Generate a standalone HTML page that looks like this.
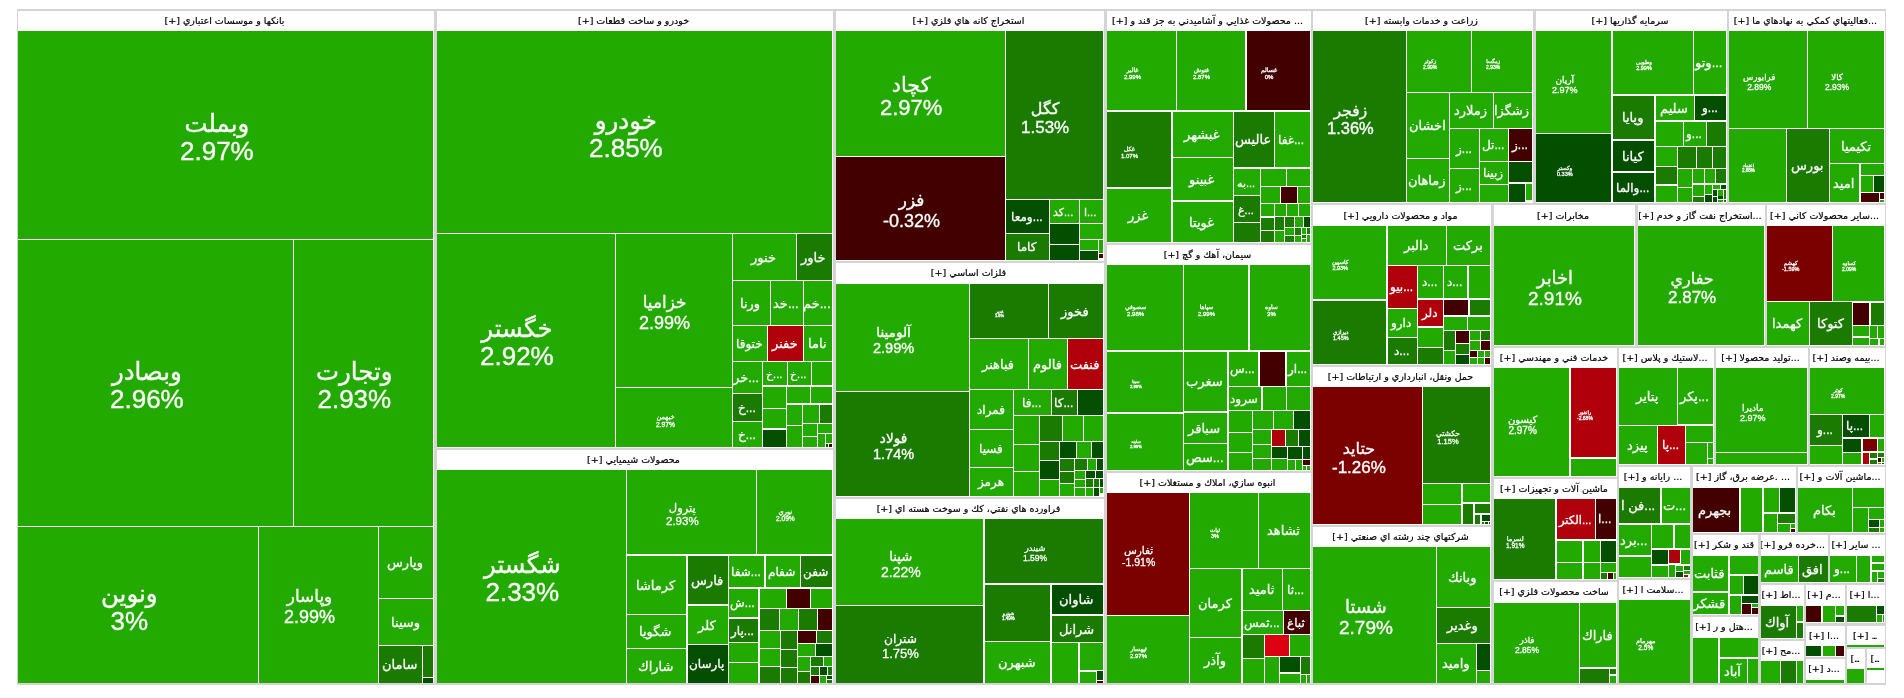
<!DOCTYPE html>
<html lang="fa"><head><meta charset="utf-8"><title>نقشه بازار</title>
<style>
html,body{margin:0;padding:0;background:#fff;width:1904px;height:698px;overflow:hidden}
#map{position:absolute;left:17px;top:9px;width:1869px;height:676px;background:#d4d4d4}
.g{position:absolute;background:#fff;overflow:hidden}
.h{position:absolute;left:0;right:0;top:0;height:20px;padding-right:3px;line-height:20px;text-align:center;white-space:nowrap;overflow:hidden;
 font-family:"DejaVu Sans","Liberation Sans",sans-serif;font-size:9.5px;color:#000;direction:rtl;-webkit-text-stroke:0.2px #000;will-change:transform}
.l{position:absolute;overflow:hidden;color:#fff;display:flex;flex-direction:column;align-items:center;justify-content:center;
 font-family:"Liberation Sans","DejaVu Sans",sans-serif;white-space:nowrap;text-align:center}
.l span{display:block}
.n{direction:rtl}
.d{letter-spacing:-0.16em}
.l .d{display:inline}
.t{will-change:transform}
</style></head><body><div id="map"></div>

<div class="g" style="left:18px;top:11px;width:416px;height:672px"><div class="h" style="">بانكها و موسسات اعتباري [+]</div></div>
<div class="g" style="left:437px;top:11px;width:396px;height:437px"><div class="h" style="">خودرو و ساخت قطعات [+]</div></div>
<div class="g" style="left:437px;top:450px;width:396px;height:233px"><div class="h" style="">محصولات شيميايي [+]</div></div>
<div class="g" style="left:836px;top:11px;width:268px;height:250px"><div class="h" style="">استخراج كانه هاي فلزي [+]</div></div>
<div class="g" style="left:836px;top:263px;width:268px;height:234px"><div class="h" style="">فلزات اساسي [+]</div></div>
<div class="g" style="left:836px;top:499px;width:268px;height:184px"><div class="h" style="">فراورده هاي نفتي، كك و سوخت هسته اي [+]</div></div>
<div class="g" style="left:1107px;top:11px;width:204px;height:232px"><div class="h" style=""><span class="d">...</span> محصولات غذايي و آشاميدني به جز قند و [+]</div></div>
<div class="g" style="left:1107px;top:245px;width:204px;height:226px"><div class="h" style="">سيمان، آهك و گچ [+]</div></div>
<div class="g" style="left:1107px;top:473px;width:204px;height:210px"><div class="h" style="">انبوه سازي، املاك و مستغلات [+]</div></div>
<div class="g" style="left:1313px;top:11px;width:220px;height:192px"><div class="h" style="">زراعت و خدمات وابسته [+]</div></div>
<div class="g" style="left:1313px;top:205px;width:178px;height:160px"><div class="h" style="height:21px;line-height:21px">مواد و محصولات دارويي [+]</div></div>
<div class="g" style="left:1313px;top:367px;width:178px;height:158px"><div class="h" style="">حمل ونقل، انبارداري و ارتباطات [+]</div></div>
<div class="g" style="left:1313px;top:527px;width:178px;height:156px"><div class="h" style="">شركتهاي چند رشته اي صنعتي [+]</div></div>
<div class="g" style="left:1536px;top:11px;width:191px;height:192px"><div class="h" style="">سرمايه گذاريها [+]</div></div>
<div class="g" style="left:1729px;top:11px;width:156px;height:192px"><div class="h" style=""><span class="d">...</span>فعاليتهاي كمكي به نهادهاي ما [+]</div></div>
<div class="g" style="left:1494px;top:205px;width:141px;height:141px"><div class="h" style="height:21px;line-height:21px">مخابرات [+]</div></div>
<div class="g" style="left:1638px;top:205px;width:127px;height:141px"><div class="h" style="height:21px;line-height:21px"><span class="d">...</span>استخراج نفت گاز و خدم [+]</div></div>
<div class="g" style="left:1767px;top:205px;width:118px;height:141px"><div class="h" style="height:21px;line-height:21px"><span class="d">...</span>ساير محصولات كاني [+]</div></div>
<div class="g" style="left:1494px;top:348px;width:123px;height:129px"><div class="h" style="">خدمات فني و مهندسي [+]</div></div>
<div class="g" style="left:1619px;top:348px;width:95px;height:117px"><div class="h" style=""><span class="d">...</span>لاستيك و پلاس [+]</div></div>
<div class="g" style="left:1716px;top:348px;width:92px;height:117px"><div class="h" style=""><span class="d">...</span>توليد محصولا [+]</div></div>
<div class="g" style="left:1810px;top:348px;width:75px;height:117px"><div class="h" style=""><span class="d">...</span>بيمه وصند [+]</div></div>
<div class="g" style="left:1494px;top:479px;width:123px;height:101px"><div class="h" style="">ماشين آلات و تجهيزات [+]</div></div>
<div class="g" style="left:1494px;top:582px;width:123px;height:101px"><div class="h" style="">ساخت محصولات فلزي [+]</div></div>
<div class="g" style="left:1619px;top:467px;width:71px;height:111px"><div class="h" style=""><span class="d">...</span> رايانه و [+]</div></div>
<div class="g" style="left:1619px;top:580px;width:71px;height:103px"><div class="h" style=""><span class="d">...</span>سلامت ا [+]</div></div>
<div class="g" style="left:1693px;top:467px;width:103px;height:66px"><div class="h" style=""><span class="d">...</span> .عرضه برق، گاز [+]</div></div>
<div class="g" style="left:1798px;top:467px;width:87px;height:66px"><div class="h" style=""><span class="d">...</span>ماشين آلات و [+]</div></div>
<div class="g" style="left:1693px;top:535px;width:65px;height:80px"><div class="h" style="">قند و شكر [+]</div></div>
<div class="g" style="left:1761px;top:535px;width:67px;height:48px"><div class="h" style=""><span class="d">...</span>خرده فرو [+]</div></div>
<div class="g" style="left:1830px;top:535px;width:55px;height:48px"><div class="h" style=""><span class="d">...</span> ساير [+]</div></div>
<div class="g" style="left:1693px;top:617px;width:65px;height:66px"><div class="h" style=""><span class="d">...</span>هتل و ر [+]</div></div>
<div class="g" style="left:1761px;top:585px;width:43px;height:54px"><div class="h" style=""><span class="d">...</span>اط [+]</div></div>
<div class="g" style="left:1761px;top:641px;width:43px;height:42px"><div class="h" style=""><span class="d">...</span>مح [+]</div></div>
<div class="g" style="left:1806px;top:585px;width:39px;height:38px"><div class="h" style=""><span class="d">...</span>م [+]</div></div>
<div class="g" style="left:1806px;top:626px;width:39px;height:31px"><div class="h" style=""><span class="d">...</span>ا [+]</div></div>
<div class="g" style="left:1806px;top:659px;width:39px;height:24px"><div class="h" style=""><span class="d">...</span>د [+]</div></div>
<div class="g" style="left:1847px;top:585px;width:38px;height:38px"><div class="h" style=""><span class="d">...</span>ا [+]</div></div>
<div class="g" style="left:1847px;top:626px;width:38px;height:21px"><div class="h" style=""><span class="d">...</span> [+]</div></div>
<div class="g" style="left:1847px;top:649px;width:18px;height:34px"><div class="h" style="direction:ltr">[<span class="d">...</span></div></div>
<div class="g" style="left:1867px;top:649px;width:18px;height:34px"><div class="h" style="direction:ltr">[<span class="d">...</span></div></div>
<div class="l" style="left:18px;top:31px;width:415px;height:208px;background:#22aa00;font-size:26px;line-height:1.12;-webkit-text-stroke:0.35px #fff"><div class="t" style="transform:translate(-9px,3px)"><span class="n" style="font-size:0.94em">وبملت</span><span>2.97%</span></div></div>
<div class="l" style="left:18px;top:240px;width:275px;height:286px;background:#22aa00;font-size:26px;line-height:1.12;-webkit-text-stroke:0.35px #fff"><div class="t" style="transform:translate(-9px,3px)"><span class="n" style="font-size:0.94em">وبصادر</span><span>2.96%</span></div></div>
<div class="l" style="left:294px;top:240px;width:139px;height:286px;background:#22aa00;font-size:26px;line-height:1.12;-webkit-text-stroke:0.35px #fff"><div class="t" style="transform:translate(-9px,3px)"><span class="n" style="font-size:0.94em">وتجارت</span><span>2.93%</span></div></div>
<div class="l" style="left:18px;top:527px;width:240px;height:156px;background:#22aa00;font-size:26px;line-height:1.12;-webkit-text-stroke:0.35px #fff"><div class="t" style="transform:translate(-9px,3px)"><span class="n" style="font-size:0.94em">ونوين</span><span>3%</span></div></div>
<div class="l" style="left:259px;top:527px;width:119px;height:156px;background:#22aa00;font-size:18px;line-height:1.12;-webkit-text-stroke:0.35px #fff"><div class="t" style="transform:translate(-9px,3px)"><span class="n" style="font-size:0.94em">وپاسار</span><span>2.99%</span></div></div>
<div class="l" style="left:379px;top:527px;width:54px;height:71px;background:#22aa00;font-size:13px;line-height:1.12;-webkit-text-stroke:0.3px #fff"><div class="t" style="transform:translate(-1px,1px)"><span class="n">وپارس</span></div></div>
<div class="l" style="left:379px;top:599px;width:54px;height:46px;background:#22aa00;font-size:13px;line-height:1.12;-webkit-text-stroke:0.3px #fff"><div class="t" style="transform:translate(-1px,1px)"><span class="n">وسينا</span></div></div>
<div class="l" style="left:379px;top:646px;width:43px;height:37px;background:#1a7b00;font-size:13px;line-height:1.12;-webkit-text-stroke:0.3px #fff"><div class="t" style="transform:translate(-1px,1px)"><span class="n">سامان</span></div></div>
<div class="l" style="left:423px;top:646px;width:10px;height:31px;background:#1a7b00"></div>
<div class="l" style="left:423px;top:678px;width:10px;height:5px;background:#044e00"></div>
<div class="l" style="left:437px;top:31px;width:395px;height:202px;background:#22aa00;font-size:26px;line-height:1.12;-webkit-text-stroke:0.35px #fff"><div class="t" style="transform:translate(-9px,3px)"><span class="n" style="font-size:0.94em">خودرو</span><span>2.85%</span></div></div>
<div class="l" style="left:437px;top:234px;width:178px;height:213px;background:#22aa00;font-size:26px;line-height:1.12;-webkit-text-stroke:0.35px #fff"><div class="t" style="transform:translate(-9px,3px)"><span class="n" style="font-size:0.94em">خگستر</span><span>2.92%</span></div></div>
<div class="l" style="left:616px;top:234px;width:116px;height:153px;background:#22aa00;font-size:18px;line-height:1.12;-webkit-text-stroke:0.35px #fff"><div class="t" style="transform:translate(-9px,3px)"><span class="n" style="font-size:0.94em">خزاميا</span><span>2.99%</span></div></div>
<div class="l" style="left:616px;top:388px;width:116px;height:59px;background:#22aa00;font-size:6.7px;line-height:1.12;-webkit-text-stroke:0.3px #fff"><div class="t" style="transform:translate(-9px,3px)"><span class="n">خبهمن</span><span>2.97%</span></div></div>
<div class="l" style="left:733px;top:234px;width:63px;height:46px;background:#22aa00;font-size:13px;line-height:1.12;-webkit-text-stroke:0.3px #fff"><div class="t" style="transform:translate(-1px,1px)"><span class="n">خنور</span></div></div>
<div class="l" style="left:797px;top:234px;width:35px;height:46px;background:#1a7b00;font-size:13px;line-height:1.12;-webkit-text-stroke:0.3px #fff"><div class="t" style="transform:translate(-1px,1px)"><span class="n">خاور</span></div></div>
<div class="l" style="left:733px;top:281px;width:37px;height:44px;background:#22aa00;font-size:13px;line-height:1.12;-webkit-text-stroke:0.3px #fff"><div class="t" style="transform:translate(-1px,1px)"><span class="n">ورنا</span></div></div>
<div class="l" style="left:771px;top:281px;width:32px;height:44px;background:#22aa00;font-size:13px;line-height:1.12;-webkit-text-stroke:0.3px #fff"><div class="t" style="transform:translate(-1px,1px)"><span class="n"><span class="d">...</span>خد</span></div></div>
<div class="l" style="left:804px;top:281px;width:28px;height:44px;background:#22aa00;font-size:13px;line-height:1.12;-webkit-text-stroke:0.3px #fff"><div class="t" style="transform:translate(-1px,1px)"><span class="n"><span class="d">...</span>خم</span></div></div>
<div class="l" style="left:733px;top:326px;width:34px;height:35px;background:#22aa00;font-size:12px;line-height:1.12;-webkit-text-stroke:0.3px #fff"><div class="t" style="transform:translate(-1px,1px)"><span class="n">ختوقا</span></div></div>
<div class="l" style="left:768px;top:326px;width:35px;height:35px;background:#b0000b;font-size:13px;line-height:1.12;-webkit-text-stroke:0.3px #fff"><div class="t" style="transform:translate(-1px,1px)"><span class="n">خفنر</span></div></div>
<div class="l" style="left:804px;top:326px;width:28px;height:35px;background:#22aa00;font-size:13px;line-height:1.12;-webkit-text-stroke:0.3px #fff"><div class="t" style="transform:translate(-1px,1px)"><span class="n">ناما</span></div></div>
<div class="l" style="left:733px;top:362px;width:29px;height:31px;background:#22aa00;font-size:13px;line-height:1.12;-webkit-text-stroke:0.3px #fff"><div class="t" style="transform:translate(-1px,1px)"><span class="n"><span class="d">...</span>خر</span></div></div>
<div class="l" style="left:733px;top:394px;width:29px;height:27px;background:#1a7b00;font-size:12px;line-height:1.12;-webkit-text-stroke:0.3px #fff"><div class="t" style="transform:translate(-1px,1px)"><span class="n"><span class="d">...</span>خ</span></div></div>
<div class="l" style="left:733px;top:422px;width:29px;height:25px;background:#22aa00;font-size:12px;line-height:1.12;-webkit-text-stroke:0.3px #fff"><div class="t" style="transform:translate(-1px,1px)"><span class="n"><span class="d">...</span>خ</span></div></div>
<div class="l" style="left:763px;top:362px;width:24px;height:23px;background:#22aa00;font-size:11px;line-height:1.12;-webkit-text-stroke:0.3px #fff"><div class="t" style="transform:translate(-1px,1px)"><span class="n"><span class="d">...</span>خ</span></div></div>
<div class="l" style="left:788px;top:362px;width:23px;height:23px;background:#22aa00;font-size:11px;line-height:1.12;-webkit-text-stroke:0.3px #fff"><div class="t" style="transform:translate(-1px,1px)"><span class="n"><span class="d">...</span>خ</span></div></div>
<div class="l" style="left:812px;top:362px;width:20px;height:23px;background:#22aa00"></div>
<div class="l" style="left:763px;top:387px;width:23px;height:21px;background:#22aa00"></div>
<div class="l" style="left:787px;top:387px;width:23px;height:16px;background:#22aa00"></div>
<div class="l" style="left:811px;top:387px;width:21px;height:16px;background:#22aa00"></div>
<div class="l" style="left:763px;top:409px;width:23px;height:19px;background:#22aa00"></div>
<div class="l" style="left:763px;top:430px;width:23px;height:17px;background:#044e00"></div>
<div class="l" style="left:787px;top:405px;width:15px;height:20px;background:#22aa00"></div>
<div class="l" style="left:787px;top:426px;width:15px;height:21px;background:#22aa00"></div>
<div class="l" style="left:803px;top:405px;width:16px;height:18px;background:#22aa00"></div>
<div class="l" style="left:820px;top:405px;width:12px;height:18px;background:#1a7b00"></div>
<div class="l" style="left:803px;top:424px;width:14px;height:12px;background:#22aa00"></div>
<div class="l" style="left:803px;top:437px;width:14px;height:10px;background:#22aa00"></div>
<div class="l" style="left:818px;top:424px;width:14px;height:9px;background:#22aa00"></div>
<div class="l" style="left:818px;top:434px;width:7px;height:13px;background:#22aa00"></div>
<div class="l" style="left:826px;top:434px;width:6px;height:9px;background:#22aa00"></div>
<div class="l" style="left:826px;top:444px;width:2px;height:3px;background:#044e00"></div>
<div class="l" style="left:829px;top:444px;width:3px;height:3px;background:#420000"></div>
<div class="l" style="left:437px;top:470px;width:189px;height:213px;background:#22aa00;font-size:26px;line-height:1.12;-webkit-text-stroke:0.35px #fff"><div class="t" style="transform:translate(-9px,3px)"><span class="n" style="font-size:0.94em">شگستر</span><span>2.33%</span></div></div>
<div class="l" style="left:627px;top:470px;width:129px;height:84px;background:#22aa00;font-size:11.5px;line-height:1.12;-webkit-text-stroke:0.3px #fff"><div class="t" style="transform:translate(-9px,3px)"><span class="n">پترول</span><span>2.93%</span></div></div>
<div class="l" style="left:757px;top:470px;width:75px;height:84px;background:#22aa00;font-size:6.6px;line-height:1.12;-webkit-text-stroke:0.3px #fff"><div class="t" style="transform:translate(-9px,3px)"><span class="n">نوري</span><span>2.09%</span></div></div>
<div class="l" style="left:627px;top:556px;width:59px;height:58px;background:#22aa00;font-size:13px;line-height:1.12;-webkit-text-stroke:0.3px #fff"><div class="t" style="transform:translate(-1px,1px)"><span class="n">كرماشا</span></div></div>
<div class="l" style="left:627px;top:615px;width:59px;height:33px;background:#22aa00;font-size:13px;line-height:1.12;-webkit-text-stroke:0.3px #fff"><div class="t" style="transform:translate(-1px,1px)"><span class="n">شگويا</span></div></div>
<div class="l" style="left:627px;top:649px;width:59px;height:34px;background:#22aa00;font-size:13px;line-height:1.12;-webkit-text-stroke:0.3px #fff"><div class="t" style="transform:translate(-1px,1px)"><span class="n">شاراك</span></div></div>
<div class="l" style="left:688px;top:556px;width:40px;height:48px;background:#1a7b00;font-size:13px;line-height:1.12;-webkit-text-stroke:0.3px #fff"><div class="t" style="transform:translate(-1px,1px)"><span class="n">فارس</span></div></div>
<div class="l" style="left:688px;top:606px;width:40px;height:38px;background:#22aa00;font-size:13px;line-height:1.12;-webkit-text-stroke:0.3px #fff"><div class="t" style="transform:translate(-1px,1px)"><span class="n">كلر</span></div></div>
<div class="l" style="left:688px;top:645px;width:40px;height:38px;background:#044e00;font-size:12px;line-height:1.12;-webkit-text-stroke:0.3px #fff"><div class="t" style="transform:translate(-1px,1px)"><span class="n">پارسان</span></div></div>
<div class="l" style="left:729px;top:556px;width:35px;height:31px;background:#22aa00;font-size:12px;line-height:1.12;-webkit-text-stroke:0.3px #fff"><div class="t" style="transform:translate(-1px,1px)"><span class="n"><span class="d">...</span>شفا</span></div></div>
<div class="l" style="left:766px;top:556px;width:34px;height:31px;background:#22aa00;font-size:12px;line-height:1.12;-webkit-text-stroke:0.3px #fff"><div class="t" style="transform:translate(-1px,1px)"><span class="n">شفام</span></div></div>
<div class="l" style="left:801px;top:556px;width:31px;height:31px;background:#1a7b00;font-size:12px;line-height:1.12;-webkit-text-stroke:0.3px #fff"><div class="t" style="transform:translate(-1px,1px)"><span class="n">شفن</span></div></div>
<div class="l" style="left:729px;top:589px;width:29px;height:28px;background:#22aa00;font-size:12px;line-height:1.12;-webkit-text-stroke:0.3px #fff"><div class="t" style="transform:translate(-1px,1px)"><span class="n"><span class="d">...</span>ش</span></div></div>
<div class="l" style="left:729px;top:619px;width:29px;height:23px;background:#1a7b00;font-size:12px;line-height:1.12;-webkit-text-stroke:0.3px #fff"><div class="t" style="transform:translate(-1px,1px)"><span class="n"><span class="d">...</span>پار</span></div></div>
<div class="l" style="left:729px;top:643px;width:29px;height:19px;background:#22aa00"></div>
<div class="l" style="left:729px;top:663px;width:29px;height:20px;background:#22aa00"></div>
<div class="l" style="left:760px;top:589px;width:26px;height:19px;background:#22aa00"></div>
<div class="l" style="left:787px;top:589px;width:23px;height:19px;background:#420000"></div>
<div class="l" style="left:811px;top:589px;width:21px;height:19px;background:#22aa00"></div>
<div class="l" style="left:760px;top:609px;width:19px;height:21px;background:#1a7b00"></div>
<div class="l" style="left:780px;top:609px;width:18px;height:21px;background:#22aa00"></div>
<div class="l" style="left:799px;top:609px;width:18px;height:21px;background:#1a7b00"></div>
<div class="l" style="left:818px;top:609px;width:14px;height:21px;background:#420000"></div>
<div class="l" style="left:760px;top:631px;width:20px;height:17px;background:#22aa00"></div>
<div class="l" style="left:760px;top:649px;width:20px;height:17px;background:#22aa00"></div>
<div class="l" style="left:760px;top:667px;width:20px;height:16px;background:#1a7b00"></div>
<div class="l" style="left:781px;top:631px;width:16px;height:18px;background:#1a7b00"></div>
<div class="l" style="left:781px;top:650px;width:16px;height:17px;background:#1a7b00"></div>
<div class="l" style="left:781px;top:668px;width:16px;height:15px;background:#1a7b00"></div>
<div class="l" style="left:798px;top:631px;width:18px;height:12px;background:#420000"></div>
<div class="l" style="left:817px;top:631px;width:15px;height:12px;background:#1a7b00"></div>
<div class="l" style="left:798px;top:644px;width:17px;height:12px;background:#22aa00"></div>
<div class="l" style="left:816px;top:644px;width:16px;height:12px;background:#044e00"></div>
<div class="l" style="left:798px;top:657px;width:12px;height:14px;background:#22aa00"></div>
<div class="l" style="left:798px;top:672px;width:12px;height:11px;background:#1a7b00"></div>
<div class="l" style="left:811px;top:657px;width:12px;height:9px;background:#1a7b00"></div>
<div class="l" style="left:824px;top:657px;width:8px;height:9px;background:#22aa00"></div>
<div class="l" style="left:811px;top:667px;width:8px;height:8px;background:#1a7b00"></div>
<div class="l" style="left:820px;top:667px;width:7px;height:8px;background:#044e00"></div>
<div class="l" style="left:828px;top:667px;width:4px;height:8px;background:#1a7b00"></div>
<div class="l" style="left:811px;top:676px;width:8px;height:7px;background:#420000"></div>
<div class="l" style="left:820px;top:676px;width:6px;height:7px;background:#22aa00"></div>
<div class="l" style="left:827px;top:676px;width:5px;height:3px;background:#044e00"></div>
<div class="l" style="left:827px;top:680px;width:5px;height:3px;background:#1a7b00"></div>
<div class="l" style="left:836px;top:31px;width:169px;height:125px;background:#22aa00;font-size:22px;line-height:1.12;-webkit-text-stroke:0.35px #fff"><div class="t" style="transform:translate(-9px,3px)"><span class="n" style="font-size:0.94em">كچاد</span><span>2.97%</span></div></div>
<div class="l" style="left:836px;top:157px;width:169px;height:103px;background:#420000;font-size:18px;line-height:1.12;-webkit-text-stroke:0.35px #fff"><div class="t" style="transform:translate(-9px,3px)"><span class="n" style="font-size:0.94em">فزر</span><span>-0.32%</span></div></div>
<div class="l" style="left:1006px;top:31px;width:97px;height:168px;background:#1a7b00;font-size:17px;line-height:1.12;-webkit-text-stroke:0.35px #fff"><div class="t" style="transform:translate(-9px,3px)"><span class="n" style="font-size:0.94em">كگل</span><span>1.53%</span></div></div>
<div class="l" style="left:1006px;top:200px;width:43px;height:33px;background:#044e00;font-size:12px;line-height:1.12;-webkit-text-stroke:0.3px #fff"><div class="t" style="transform:translate(-1px,1px)"><span class="n"><span class="d">...</span>ومعا</span></div></div>
<div class="l" style="left:1006px;top:234px;width:43px;height:26px;background:#1a7b00;font-size:12px;line-height:1.12;-webkit-text-stroke:0.3px #fff"><div class="t" style="transform:translate(-1px,1px)"><span class="n">كاما</span></div></div>
<div class="l" style="left:1050px;top:200px;width:29px;height:23px;background:#22aa00;font-size:11px;line-height:1.12;-webkit-text-stroke:0.3px #fff"><div class="t" style="transform:translate(-1px,1px)"><span class="n"><span class="d">...</span>كد</span></div></div>
<div class="l" style="left:1080px;top:200px;width:23px;height:23px;background:#22aa00;font-size:11px;line-height:1.12;-webkit-text-stroke:0.3px #fff"><div class="t" style="transform:translate(-1px,1px)"><span class="n"><span class="d">...</span>ا</span></div></div>
<div class="l" style="left:1050px;top:224px;width:29px;height:20px;background:#044e00"></div>
<div class="l" style="left:1050px;top:245px;width:29px;height:15px;background:#044e00"></div>
<div class="l" style="left:1080px;top:224px;width:23px;height:15px;background:#22aa00"></div>
<div class="l" style="left:1080px;top:240px;width:18px;height:10px;background:#22aa00"></div>
<div class="l" style="left:1080px;top:251px;width:18px;height:9px;background:#044e00"></div>
<div class="l" style="left:1099px;top:240px;width:4px;height:13px;background:#22aa00"></div>
<div class="l" style="left:1099px;top:254px;width:4px;height:4px;background:#420000"></div>
<div class="l" style="left:836px;top:284px;width:133px;height:107px;background:#22aa00;font-size:14.5px;line-height:1.12;-webkit-text-stroke:0.35px #fff"><div class="t" style="transform:translate(-9px,3px)"><span class="n" style="font-size:0.94em">آلومينا</span><span>2.99%</span></div></div>
<div class="l" style="left:836px;top:392px;width:133px;height:104px;background:#1a7b00;font-size:14.5px;line-height:1.12;-webkit-text-stroke:0.35px #fff"><div class="t" style="transform:translate(-9px,3px)"><span class="n" style="font-size:0.94em">فولاد</span><span>1.74%</span></div></div>
<div class="l" style="left:970px;top:284px;width:78px;height:54px;background:#1a7b00;font-size:4px;line-height:1.12;-webkit-text-stroke:0.3px #fff"><div class="t" style="transform:translate(-9px,3px)"><span class="n">غدير</span><span>1.6%</span></div></div>
<div class="l" style="left:1049px;top:284px;width:54px;height:54px;background:#1a7b00;font-size:13px;line-height:1.12;-webkit-text-stroke:0.3px #fff"><div class="t" style="transform:translate(-1px,1px)"><span class="n">فخوز</span></div></div>
<div class="l" style="left:970px;top:339px;width:58px;height:50px;background:#22aa00;font-size:13px;line-height:1.12;-webkit-text-stroke:0.3px #fff"><div class="t" style="transform:translate(-1px,1px)"><span class="n">فباهنر</span></div></div>
<div class="l" style="left:1029px;top:339px;width:38px;height:50px;background:#22aa00;font-size:13px;line-height:1.12;-webkit-text-stroke:0.3px #fff"><div class="t" style="transform:translate(-1px,1px)"><span class="n">فالوم</span></div></div>
<div class="l" style="left:1068px;top:339px;width:35px;height:50px;background:#b0000b;font-size:13px;line-height:1.12;-webkit-text-stroke:0.3px #fff"><div class="t" style="transform:translate(-1px,1px)"><span class="n">فنفت</span></div></div>
<div class="l" style="left:970px;top:390px;width:43px;height:39px;background:#22aa00;font-size:12px;line-height:1.12;-webkit-text-stroke:0.3px #fff"><div class="t" style="transform:translate(-1px,1px)"><span class="n">فمراد</span></div></div>
<div class="l" style="left:970px;top:430px;width:43px;height:37px;background:#22aa00;font-size:12px;line-height:1.12;-webkit-text-stroke:0.3px #fff"><div class="t" style="transform:translate(-1px,1px)"><span class="n">فسيا</span></div></div>
<div class="l" style="left:970px;top:468px;width:43px;height:28px;background:#22aa00;font-size:12px;line-height:1.12;-webkit-text-stroke:0.3px #fff"><div class="t" style="transform:translate(-1px,1px)"><span class="n">هرمز</span></div></div>
<div class="l" style="left:1014px;top:390px;width:37px;height:25px;background:#22aa00;font-size:12px;line-height:1.12;-webkit-text-stroke:0.3px #fff"><div class="t" style="transform:translate(-1px,1px)"><span class="n"><span class="d">...</span>فا</span></div></div>
<div class="l" style="left:1052px;top:390px;width:25px;height:25px;background:#1a7b00;font-size:12px;line-height:1.12;-webkit-text-stroke:0.3px #fff"><div class="t" style="transform:translate(-1px,1px)"><span class="n"><span class="d">...</span>كا</span></div></div>
<div class="l" style="left:1078px;top:390px;width:25px;height:25px;background:#044e00"></div>
<div class="l" style="left:1014px;top:416px;width:25px;height:28px;background:#22aa00"></div>
<div class="l" style="left:1014px;top:445px;width:25px;height:26px;background:#22aa00"></div>
<div class="l" style="left:1014px;top:472px;width:25px;height:24px;background:#22aa00"></div>
<div class="l" style="left:1040px;top:416px;width:22px;height:25px;background:#1a7b00"></div>
<div class="l" style="left:1063px;top:416px;width:20px;height:25px;background:#22aa00"></div>
<div class="l" style="left:1084px;top:416px;width:19px;height:25px;background:#22aa00"></div>
<div class="l" style="left:1040px;top:442px;width:19px;height:18px;background:#1a7b00"></div>
<div class="l" style="left:1040px;top:461px;width:19px;height:18px;background:#044e00"></div>
<div class="l" style="left:1040px;top:480px;width:19px;height:16px;background:#22aa00"></div>
<div class="l" style="left:1060px;top:442px;width:16px;height:16px;background:#044e00"></div>
<div class="l" style="left:1077px;top:442px;width:14px;height:16px;background:#22aa00"></div>
<div class="l" style="left:1092px;top:442px;width:11px;height:16px;background:#044e00"></div>
<div class="l" style="left:1060px;top:459px;width:14px;height:12px;background:#1a7b00"></div>
<div class="l" style="left:1060px;top:472px;width:14px;height:11px;background:#1a7b00"></div>
<div class="l" style="left:1060px;top:484px;width:14px;height:12px;background:#22aa00"></div>
<div class="l" style="left:1075px;top:459px;width:12px;height:11px;background:#1a7b00"></div>
<div class="l" style="left:1088px;top:459px;width:8px;height:11px;background:#22aa00"></div>
<div class="l" style="left:1097px;top:459px;width:6px;height:11px;background:#044e00"></div>
<div class="l" style="left:1075px;top:471px;width:10px;height:8px;background:#22aa00"></div>
<div class="l" style="left:1086px;top:471px;width:9px;height:7px;background:#044e00"></div>
<div class="l" style="left:1096px;top:471px;width:7px;height:7px;background:#044e00"></div>
<div class="l" style="left:1075px;top:480px;width:10px;height:7px;background:#22aa00"></div>
<div class="l" style="left:1086px;top:479px;width:7px;height:8px;background:#1a7b00"></div>
<div class="l" style="left:1094px;top:479px;width:5px;height:8px;background:#1a7b00"></div>
<div class="l" style="left:1100px;top:479px;width:3px;height:8px;background:#044e00"></div>
<div class="l" style="left:1075px;top:488px;width:10px;height:8px;background:#22aa00"></div>
<div class="l" style="left:1086px;top:488px;width:7px;height:8px;background:#22aa00"></div>
<div class="l" style="left:1094px;top:488px;width:5px;height:8px;background:#044e00"></div>
<div class="l" style="left:1100px;top:488px;width:3px;height:5px;background:#22aa00"></div>
<div class="l" style="left:836px;top:519px;width:147px;height:86px;background:#22aa00;font-size:14px;line-height:1.12;-webkit-text-stroke:0.3px #fff"><div class="t" style="transform:translate(-9px,3px)"><span class="n" style="font-size:0.94em">شپنا</span><span>2.22%</span></div></div>
<div class="l" style="left:836px;top:606px;width:147px;height:77px;background:#1a7b00;font-size:13px;line-height:1.12;-webkit-text-stroke:0.3px #fff"><div class="t" style="transform:translate(-9px,3px)"><span class="n" style="font-size:0.94em">شتران</span><span>1.75%</span></div></div>
<div class="l" style="left:985px;top:519px;width:118px;height:64px;background:#1a7b00;font-size:8.5px;line-height:1.12;-webkit-text-stroke:0.3px #fff"><div class="t" style="transform:translate(-9px,3px)"><span class="n">شبندر</span><span>1.59%</span></div></div>
<div class="l" style="left:985px;top:585px;width:65px;height:56px;background:#1a7b00;font-size:4.5px;line-height:1.12;-webkit-text-stroke:0.3px #fff"><div class="t" style="transform:translate(-9px,3px)"><span class="n">شپترو</span><span>1.49%</span></div></div>
<div class="l" style="left:1052px;top:585px;width:51px;height:29px;background:#044e00;font-size:13px;line-height:1.12;-webkit-text-stroke:0.3px #fff"><div class="t" style="transform:translate(-1px,1px)"><span class="n">شاوان</span></div></div>
<div class="l" style="left:1052px;top:616px;width:51px;height:26px;background:#1a7b00;font-size:13px;line-height:1.12;-webkit-text-stroke:0.3px #fff"><div class="t" style="transform:translate(-1px,1px)"><span class="n">شرانل</span></div></div>
<div class="l" style="left:985px;top:642px;width:65px;height:41px;background:#22aa00;font-size:13px;line-height:1.12;-webkit-text-stroke:0.3px #fff"><div class="t" style="transform:translate(-1px,1px)"><span class="n">شبهرن</span></div></div>
<div class="l" style="left:1052px;top:643px;width:26px;height:40px;background:#22aa00"></div>
<div class="l" style="left:1080px;top:643px;width:23px;height:27px;background:#22aa00"></div>
<div class="l" style="left:1080px;top:672px;width:16px;height:11px;background:#22aa00"></div>
<div class="l" style="left:1097px;top:671px;width:6px;height:9px;background:#044e00"></div>
<div class="l" style="left:1097px;top:681px;width:6px;height:2px;background:#420000"></div>
<div class="l" style="left:1107px;top:31px;width:69px;height:79px;background:#22aa00;font-size:6px;line-height:1.12;-webkit-text-stroke:0.3px #fff"><div class="t" style="transform:translate(-9px,3px)"><span class="n">غالبر</span><span>2.99%</span></div></div>
<div class="l" style="left:1177px;top:31px;width:68px;height:79px;background:#22aa00;font-size:6px;line-height:1.12;-webkit-text-stroke:0.3px #fff"><div class="t" style="transform:translate(-9px,3px)"><span class="n">غنوش</span><span>2.87%</span></div></div>
<div class="l" style="left:1247px;top:31px;width:63px;height:79px;background:#420000;font-size:6px;line-height:1.12;-webkit-text-stroke:0.3px #fff"><div class="t" style="transform:translate(-9px,3px)"><span class="n">غسالم</span><span>0%</span></div></div>
<div class="l" style="left:1107px;top:112px;width:64px;height:75px;background:#1a7b00;font-size:6px;line-height:1.12;-webkit-text-stroke:0.3px #fff"><div class="t" style="transform:translate(-9px,3px)"><span class="n">غكل</span><span>1.07%</span></div></div>
<div class="l" style="left:1107px;top:189px;width:64px;height:53px;background:#22aa00;font-size:13px;line-height:1.12;-webkit-text-stroke:0.3px #fff"><div class="t" style="transform:translate(-1px,1px)"><span class="n">غزر</span></div></div>
<div class="l" style="left:1173px;top:112px;width:60px;height:45px;background:#22aa00;font-size:13px;line-height:1.12;-webkit-text-stroke:0.3px #fff"><div class="t" style="transform:translate(-1px,1px)"><span class="n">غبشهر</span></div></div>
<div class="l" style="left:1173px;top:158px;width:60px;height:42px;background:#22aa00;font-size:13px;line-height:1.12;-webkit-text-stroke:0.3px #fff"><div class="t" style="transform:translate(-1px,1px)"><span class="n">غبينو</span></div></div>
<div class="l" style="left:1173px;top:202px;width:60px;height:40px;background:#22aa00;font-size:13px;line-height:1.12;-webkit-text-stroke:0.3px #fff"><div class="t" style="transform:translate(-1px,1px)"><span class="n">غويتا</span></div></div>
<div class="l" style="left:1234px;top:112px;width:40px;height:55px;background:#1a7b00;font-size:13px;line-height:1.12;-webkit-text-stroke:0.3px #fff"><div class="t" style="transform:translate(-1px,1px)"><span class="n">عاليس</span></div></div>
<div class="l" style="left:1275px;top:112px;width:35px;height:55px;background:#22aa00;font-size:12px;line-height:1.12;-webkit-text-stroke:0.3px #fff"><div class="t" style="transform:translate(-1px,1px)"><span class="n"><span class="d">...</span>غفا</span></div></div>
<div class="l" style="left:1234px;top:169px;width:26px;height:26px;background:#22aa00;font-size:11px;line-height:1.12;-webkit-text-stroke:0.3px #fff"><div class="t" style="transform:translate(-1px,1px)"><span class="n"><span class="d">...</span>به</span></div></div>
<div class="l" style="left:1234px;top:196px;width:26px;height:26px;background:#1a7b00;font-size:11px;line-height:1.12;-webkit-text-stroke:0.3px #fff"><div class="t" style="transform:translate(-1px,1px)"><span class="n"><span class="d">...</span>غ</span></div></div>
<div class="l" style="left:1234px;top:223px;width:26px;height:19px;background:#1a7b00"></div>
<div class="l" style="left:1261px;top:169px;width:25px;height:17px;background:#22aa00"></div>
<div class="l" style="left:1287px;top:169px;width:23px;height:17px;background:#22aa00"></div>
<div class="l" style="left:1261px;top:187px;width:19px;height:16px;background:#22aa00"></div>
<div class="l" style="left:1281px;top:187px;width:16px;height:16px;background:#420000"></div>
<div class="l" style="left:1298px;top:187px;width:12px;height:16px;background:#22aa00"></div>
<div class="l" style="left:1261px;top:204px;width:13px;height:12px;background:#22aa00"></div>
<div class="l" style="left:1275px;top:204px;width:11px;height:12px;background:#22aa00"></div>
<div class="l" style="left:1287px;top:204px;width:11px;height:12px;background:#22aa00"></div>
<div class="l" style="left:1299px;top:204px;width:11px;height:12px;background:#22aa00"></div>
<div class="l" style="left:1261px;top:218px;width:13px;height:12px;background:#1a7b00"></div>
<div class="l" style="left:1275px;top:217px;width:9px;height:13px;background:#1a7b00"></div>
<div class="l" style="left:1285px;top:217px;width:9px;height:10px;background:#1a7b00"></div>
<div class="l" style="left:1295px;top:217px;width:8px;height:10px;background:#22aa00"></div>
<div class="l" style="left:1304px;top:217px;width:6px;height:10px;background:#044e00"></div>
<div class="l" style="left:1261px;top:231px;width:13px;height:11px;background:#1a7b00"></div>
<div class="l" style="left:1275px;top:231px;width:9px;height:11px;background:#22aa00"></div>
<div class="l" style="left:1285px;top:228px;width:9px;height:7px;background:#22aa00"></div>
<div class="l" style="left:1295px;top:228px;width:6px;height:7px;background:#1a7b00"></div>
<div class="l" style="left:1302px;top:228px;width:4px;height:6px;background:#22aa00"></div>
<div class="l" style="left:1307px;top:228px;width:3px;height:6px;background:#1a7b00"></div>
<div class="l" style="left:1285px;top:236px;width:9px;height:6px;background:#1a7b00"></div>
<div class="l" style="left:1295px;top:236px;width:6px;height:6px;background:#22aa00"></div>
<div class="l" style="left:1302px;top:235px;width:4px;height:3px;background:#1a7b00"></div>
<div class="l" style="left:1302px;top:239px;width:4px;height:3px;background:#22aa00"></div>
<div class="l" style="left:1307px;top:235px;width:3px;height:7px;background:#22aa00"></div>
<div class="l" style="left:1107px;top:265px;width:76px;height:85px;background:#22aa00;font-size:6px;line-height:1.12;-webkit-text-stroke:0.3px #fff"><div class="t" style="transform:translate(-9px,3px)"><span class="n">سصوفي</span><span>2.98%</span></div></div>
<div class="l" style="left:1184px;top:265px;width:64px;height:85px;background:#22aa00;font-size:6px;line-height:1.12;-webkit-text-stroke:0.3px #fff"><div class="t" style="transform:translate(-9px,3px)"><span class="n">سپاها</span><span>2.99%</span></div></div>
<div class="l" style="left:1250px;top:265px;width:60px;height:85px;background:#22aa00;font-size:6px;line-height:1.12;-webkit-text-stroke:0.3px #fff"><div class="t" style="transform:translate(-9px,3px)"><span class="n">ساوه</span><span>3%</span></div></div>
<div class="l" style="left:1107px;top:352px;width:76px;height:60px;background:#22aa00;font-size:4.2px;line-height:1.12;-webkit-text-stroke:0.3px #fff"><div class="t" style="transform:translate(-9px,3px)"><span class="n">سبنا</span><span>2.99%</span></div></div>
<div class="l" style="left:1107px;top:414px;width:76px;height:56px;background:#22aa00;font-size:4.2px;line-height:1.12;-webkit-text-stroke:0.3px #fff"><div class="t" style="transform:translate(-9px,3px)"><span class="n">ساينه</span><span>2.99%</span></div></div>
<div class="l" style="left:1184px;top:352px;width:43px;height:59px;background:#22aa00;font-size:13px;line-height:1.12;-webkit-text-stroke:0.3px #fff"><div class="t" style="transform:translate(-1px,1px)"><span class="n">سغرب</span></div></div>
<div class="l" style="left:1184px;top:413px;width:43px;height:30px;background:#22aa00;font-size:13px;line-height:1.12;-webkit-text-stroke:0.3px #fff"><div class="t" style="transform:translate(-1px,1px)"><span class="n">سباقر</span></div></div>
<div class="l" style="left:1184px;top:444px;width:43px;height:26px;background:#22aa00;font-size:13px;line-height:1.12;-webkit-text-stroke:0.3px #fff"><div class="t" style="transform:translate(-1px,1px)"><span class="n"><span class="d">...</span>سص</span></div></div>
<div class="l" style="left:1229px;top:352px;width:29px;height:34px;background:#22aa00;font-size:12px;line-height:1.12;-webkit-text-stroke:0.3px #fff"><div class="t" style="transform:translate(-1px,1px)"><span class="n"><span class="d">...</span>س</span></div></div>
<div class="l" style="left:1260px;top:352px;width:25px;height:34px;background:#420000"></div>
<div class="l" style="left:1287px;top:352px;width:23px;height:34px;background:#22aa00;font-size:12px;line-height:1.12;-webkit-text-stroke:0.3px #fff"><div class="t" style="transform:translate(-1px,1px)"><span class="n"><span class="d">...</span>ار</span></div></div>
<div class="l" style="left:1229px;top:387px;width:32px;height:23px;background:#22aa00;font-size:12px;line-height:1.12;-webkit-text-stroke:0.3px #fff"><div class="t" style="transform:translate(-1px,1px)"><span class="n">سرود</span></div></div>
<div class="l" style="left:1263px;top:387px;width:23px;height:23px;background:#22aa00"></div>
<div class="l" style="left:1287px;top:387px;width:23px;height:23px;background:#22aa00"></div>
<div class="l" style="left:1229px;top:411px;width:23px;height:21px;background:#22aa00"></div>
<div class="l" style="left:1229px;top:433px;width:23px;height:19px;background:#22aa00"></div>
<div class="l" style="left:1229px;top:453px;width:23px;height:17px;background:#22aa00"></div>
<div class="l" style="left:1253px;top:411px;width:20px;height:18px;background:#22aa00"></div>
<div class="l" style="left:1274px;top:411px;width:19px;height:18px;background:#22aa00"></div>
<div class="l" style="left:1294px;top:411px;width:16px;height:18px;background:#044e00"></div>
<div class="l" style="left:1253px;top:430px;width:18px;height:14px;background:#22aa00"></div>
<div class="l" style="left:1272px;top:430px;width:13px;height:16px;background:#b0000b"></div>
<div class="l" style="left:1286px;top:430px;width:12px;height:16px;background:#1a7b00"></div>
<div class="l" style="left:1299px;top:430px;width:11px;height:16px;background:#044e00"></div>
<div class="l" style="left:1253px;top:445px;width:18px;height:13px;background:#22aa00"></div>
<div class="l" style="left:1272px;top:447px;width:15px;height:11px;background:#044e00"></div>
<div class="l" style="left:1288px;top:447px;width:14px;height:12px;background:#044e00"></div>
<div class="l" style="left:1303px;top:447px;width:7px;height:12px;background:#044e00"></div>
<div class="l" style="left:1253px;top:459px;width:18px;height:11px;background:#22aa00"></div>
<div class="l" style="left:1272px;top:459px;width:15px;height:11px;background:#22aa00"></div>
<div class="l" style="left:1288px;top:460px;width:7px;height:10px;background:#22aa00"></div>
<div class="l" style="left:1296px;top:460px;width:6px;height:10px;background:#22aa00"></div>
<div class="l" style="left:1303px;top:460px;width:7px;height:5px;background:#420000"></div>
<div class="l" style="left:1303px;top:466px;width:3px;height:4px;background:#22aa00"></div>
<div class="l" style="left:1307px;top:466px;width:3px;height:4px;background:#22aa00"></div>
<div class="l" style="left:1107px;top:493px;width:82px;height:122px;background:#7b0000;font-size:10.5px;line-height:1.12;-webkit-text-stroke:0.3px #fff"><div class="t" style="transform:translate(-9px,3px)"><span class="n">ثفارس</span><span>-1.91%</span></div></div>
<div class="l" style="left:1107px;top:616px;width:82px;height:67px;background:#22aa00;font-size:6px;line-height:1.12;-webkit-text-stroke:0.3px #fff"><div class="t" style="transform:translate(-9px,3px)"><span class="n">ثپهسار</span><span>2.97%</span></div></div>
<div class="l" style="left:1190px;top:493px;width:68px;height:75px;background:#22aa00;font-size:5.5px;line-height:1.12;-webkit-text-stroke:0.3px #fff"><div class="t" style="transform:translate(-9px,3px)"><span class="n">ثبات</span><span>3%</span></div></div>
<div class="l" style="left:1259px;top:493px;width:51px;height:75px;background:#22aa00;font-size:13px;line-height:1.12;-webkit-text-stroke:0.3px #fff"><div class="t" style="transform:translate(-1px,1px)"><span class="n">ثشاهد</span></div></div>
<div class="l" style="left:1190px;top:569px;width:51px;height:68px;background:#22aa00;font-size:13px;line-height:1.12;-webkit-text-stroke:0.3px #fff"><div class="t" style="transform:translate(-1px,1px)"><span class="n">كرمان</span></div></div>
<div class="l" style="left:1190px;top:638px;width:51px;height:45px;background:#22aa00;font-size:13px;line-height:1.12;-webkit-text-stroke:0.3px #fff"><div class="t" style="transform:translate(-1px,1px)"><span class="n">وآذر</span></div></div>
<div class="l" style="left:1243px;top:569px;width:39px;height:41px;background:#22aa00;font-size:13px;line-height:1.12;-webkit-text-stroke:0.3px #fff"><div class="t" style="transform:translate(-1px,1px)"><span class="n">ثاميد</span></div></div>
<div class="l" style="left:1283px;top:569px;width:27px;height:41px;background:#22aa00;font-size:12px;line-height:1.12;-webkit-text-stroke:0.3px #fff"><div class="t" style="transform:translate(-1px,1px)"><span class="n"><span class="d">...</span>ثا</span></div></div>
<div class="l" style="left:1243px;top:611px;width:40px;height:23px;background:#22aa00;font-size:12px;line-height:1.12;-webkit-text-stroke:0.3px #fff"><div class="t" style="transform:translate(-1px,1px)"><span class="n"><span class="d">...</span>ثمس</span></div></div>
<div class="l" style="left:1284px;top:611px;width:26px;height:23px;background:#420000;font-size:12px;line-height:1.12;-webkit-text-stroke:0.3px #fff"><div class="t" style="transform:translate(-1px,1px)"><span class="n">ثباغ</span></div></div>
<div class="l" style="left:1243px;top:635px;width:21px;height:23px;background:#1a7b00"></div>
<div class="l" style="left:1265px;top:635px;width:24px;height:21px;background:#dd0010"></div>
<div class="l" style="left:1290px;top:635px;width:20px;height:21px;background:#22aa00"></div>
<div class="l" style="left:1243px;top:659px;width:21px;height:24px;background:#22aa00"></div>
<div class="l" style="left:1265px;top:657px;width:14px;height:26px;background:#22aa00"></div>
<div class="l" style="left:1280px;top:657px;width:20px;height:15px;background:#044e00"></div>
<div class="l" style="left:1301px;top:657px;width:9px;height:17px;background:#1a7b00"></div>
<div class="l" style="left:1280px;top:674px;width:20px;height:9px;background:#22aa00"></div>
<div class="l" style="left:1301px;top:675px;width:5px;height:8px;background:#22aa00"></div>
<div class="l" style="left:1307px;top:675px;width:3px;height:8px;background:#22aa00"></div>
<div class="l" style="left:1313px;top:31px;width:93px;height:171px;background:#1a7b00;font-size:16.5px;line-height:1.12;-webkit-text-stroke:0.35px #fff"><div class="t" style="transform:translate(-9px,3px)"><span class="n" style="font-size:0.94em">زفجر</span><span>1.36%</span></div></div>
<div class="l" style="left:1407px;top:31px;width:64px;height:61px;background:#22aa00;font-size:5px;line-height:1.12;-webkit-text-stroke:0.3px #fff"><div class="t" style="transform:translate(-9px,3px)"><span class="n">زكوثر</span><span>2.99%</span></div></div>
<div class="l" style="left:1472px;top:31px;width:60px;height:61px;background:#22aa00;font-size:5px;line-height:1.12;-webkit-text-stroke:0.3px #fff"><div class="t" style="transform:translate(-9px,3px)"><span class="n">زمگسا</span><span>2.93%</span></div></div>
<div class="l" style="left:1407px;top:93px;width:42px;height:65px;background:#22aa00;font-size:13px;line-height:1.12;-webkit-text-stroke:0.3px #fff"><div class="t" style="transform:translate(-1px,1px)"><span class="n">اخشان</span></div></div>
<div class="l" style="left:1407px;top:159px;width:42px;height:43px;background:#22aa00;font-size:13px;line-height:1.12;-webkit-text-stroke:0.3px #fff"><div class="t" style="transform:translate(-1px,1px)"><span class="n">زماهان</span></div></div>
<div class="l" style="left:1450px;top:93px;width:43px;height:35px;background:#22aa00;font-size:13px;line-height:1.12;-webkit-text-stroke:0.3px #fff"><div class="t" style="transform:translate(-1px,1px)"><span class="n">زملارد</span></div></div>
<div class="l" style="left:1494px;top:93px;width:38px;height:35px;background:#22aa00;font-size:13px;line-height:1.12;-webkit-text-stroke:0.3px #fff"><div class="t" style="transform:translate(-1px,1px)"><span class="n">زشگزا</span></div></div>
<div class="l" style="left:1450px;top:129px;width:29px;height:39px;background:#22aa00;font-size:12px;line-height:1.12;-webkit-text-stroke:0.3px #fff"><div class="t" style="transform:translate(-1px,1px)"><span class="n"><span class="d">...</span>ز</span></div></div>
<div class="l" style="left:1450px;top:169px;width:29px;height:33px;background:#22aa00;font-size:12px;line-height:1.12;-webkit-text-stroke:0.3px #fff"><div class="t" style="transform:translate(-1px,1px)"><span class="n"><span class="d">...</span>ز</span></div></div>
<div class="l" style="left:1480px;top:129px;width:28px;height:32px;background:#22aa00;font-size:12px;line-height:1.12;-webkit-text-stroke:0.3px #fff"><div class="t" style="transform:translate(-1px,1px)"><span class="n"><span class="d">...</span>تل</span></div></div>
<div class="l" style="left:1509px;top:129px;width:23px;height:32px;background:#420000;font-size:12px;line-height:1.12;-webkit-text-stroke:0.3px #fff"><div class="t" style="transform:translate(-1px,1px)"><span class="n"><span class="d">...</span>ز</span></div></div>
<div class="l" style="left:1480px;top:162px;width:28px;height:22px;background:#22aa00;font-size:12px;line-height:1.12;-webkit-text-stroke:0.3px #fff"><div class="t" style="transform:translate(-1px,1px)"><span class="n">زبينا</span></div></div>
<div class="l" style="left:1480px;top:185px;width:28px;height:17px;background:#22aa00"></div>
<div class="l" style="left:1509px;top:162px;width:23px;height:20px;background:#044e00"></div>
<div class="l" style="left:1509px;top:184px;width:16px;height:18px;background:#044e00"></div>
<div class="l" style="left:1526px;top:184px;width:6px;height:16px;background:#22aa00"></div>
<div class="l" style="left:1313px;top:226px;width:73px;height:73px;background:#22aa00;font-size:5.5px;line-height:1.12;-webkit-text-stroke:0.3px #fff"><div class="t" style="transform:translate(-9px,3px)"><span class="n">كاسپين</span><span>2.93%</span></div></div>
<div class="l" style="left:1313px;top:301px;width:73px;height:63px;background:#1a7b00;font-size:5.5px;line-height:1.12;-webkit-text-stroke:0.3px #fff"><div class="t" style="transform:translate(-9px,3px)"><span class="n">ديرازي</span><span>1.45%</span></div></div>
<div class="l" style="left:1388px;top:226px;width:58px;height:39px;background:#22aa00;font-size:13px;line-height:1.12;-webkit-text-stroke:0.3px #fff"><div class="t" style="transform:translate(-1px,1px)"><span class="n">دالبر</span></div></div>
<div class="l" style="left:1447px;top:226px;width:43px;height:39px;background:#22aa00;font-size:13px;line-height:1.12;-webkit-text-stroke:0.3px #fff"><div class="t" style="transform:translate(-1px,1px)"><span class="n">بركت</span></div></div>
<div class="l" style="left:1388px;top:266px;width:29px;height:42px;background:#b0000b;font-size:12px;line-height:1.12;-webkit-text-stroke:0.3px #fff"><div class="t" style="transform:translate(-1px,1px)"><span class="n"><span class="d">...</span>بيو</span></div></div>
<div class="l" style="left:1388px;top:309px;width:29px;height:28px;background:#22aa00;font-size:12px;line-height:1.12;-webkit-text-stroke:0.3px #fff"><div class="t" style="transform:translate(-1px,1px)"><span class="n">دارو</span></div></div>
<div class="l" style="left:1388px;top:338px;width:29px;height:26px;background:#1a7b00;font-size:12px;line-height:1.12;-webkit-text-stroke:0.3px #fff"><div class="t" style="transform:translate(-1px,1px)"><span class="n"><span class="d">...</span>د</span></div></div>
<div class="l" style="left:1418px;top:266px;width:25px;height:32px;background:#22aa00;font-size:12px;line-height:1.12;-webkit-text-stroke:0.3px #fff"><div class="t" style="transform:translate(-1px,1px)"><span class="n"><span class="d">...</span>د</span></div></div>
<div class="l" style="left:1418px;top:300px;width:25px;height:26px;background:#b0000b;font-size:12px;line-height:1.12;-webkit-text-stroke:0.3px #fff"><div class="t" style="transform:translate(-1px,1px)"><span class="n">دلر</span></div></div>
<div class="l" style="left:1418px;top:328px;width:25px;height:19px;background:#22aa00"></div>
<div class="l" style="left:1418px;top:348px;width:25px;height:16px;background:#1a7b00"></div>
<div class="l" style="left:1444px;top:266px;width:23px;height:32px;background:#22aa00;font-size:12px;line-height:1.12;-webkit-text-stroke:0.3px #fff"><div class="t" style="transform:translate(-1px,1px)"><span class="n"><span class="d">...</span>د</span></div></div>
<div class="l" style="left:1469px;top:266px;width:21px;height:32px;background:#22aa00"></div>
<div class="l" style="left:1444px;top:300px;width:24px;height:15px;background:#420000"></div>
<div class="l" style="left:1470px;top:300px;width:20px;height:15px;background:#1a7b00"></div>
<div class="l" style="left:1444px;top:317px;width:23px;height:13px;background:#22aa00"></div>
<div class="l" style="left:1468px;top:317px;width:22px;height:13px;background:#22aa00"></div>
<div class="l" style="left:1444px;top:331px;width:11px;height:19px;background:#1a7b00"></div>
<div class="l" style="left:1456px;top:331px;width:13px;height:12px;background:#420000"></div>
<div class="l" style="left:1470px;top:331px;width:10px;height:9px;background:#22aa00"></div>
<div class="l" style="left:1481px;top:331px;width:9px;height:9px;background:#1a7b00"></div>
<div class="l" style="left:1456px;top:344px;width:13px;height:10px;background:#1a7b00"></div>
<div class="l" style="left:1470px;top:341px;width:10px;height:9px;background:#22aa00"></div>
<div class="l" style="left:1481px;top:341px;width:9px;height:9px;background:#420000"></div>
<div class="l" style="left:1444px;top:351px;width:11px;height:13px;background:#22aa00"></div>
<div class="l" style="left:1456px;top:355px;width:13px;height:9px;background:#044e00"></div>
<div class="l" style="left:1470px;top:351px;width:7px;height:6px;background:#420000"></div>
<div class="l" style="left:1478px;top:351px;width:6px;height:6px;background:#22aa00"></div>
<div class="l" style="left:1485px;top:351px;width:5px;height:6px;background:#22aa00"></div>
<div class="l" style="left:1470px;top:358px;width:7px;height:6px;background:#22aa00"></div>
<div class="l" style="left:1478px;top:358px;width:6px;height:6px;background:#22aa00"></div>
<div class="l" style="left:1485px;top:358px;width:5px;height:6px;background:#420000"></div>
<div class="l" style="left:1313px;top:387px;width:109px;height:137px;background:#7b0000;font-size:17px;line-height:1.12;-webkit-text-stroke:0.35px #fff"><div class="t" style="transform:translate(-9px,3px)"><span class="n" style="font-size:0.94em">حتايد</span><span>-1.26%</span></div></div>
<div class="l" style="left:1423px;top:387px;width:67px;height:96px;background:#1a7b00;font-size:7.5px;line-height:1.12;-webkit-text-stroke:0.3px #fff"><div class="t" style="transform:translate(-9px,3px)"><span class="n">حكشتي</span><span>1.15%</span></div></div>
<div class="l" style="left:1423px;top:484px;width:38px;height:20px;background:#22aa00"></div>
<div class="l" style="left:1463px;top:484px;width:27px;height:18px;background:#22aa00"></div>
<div class="l" style="left:1423px;top:505px;width:38px;height:19px;background:#22aa00"></div>
<div class="l" style="left:1463px;top:504px;width:10px;height:20px;background:#1a7b00"></div>
<div class="l" style="left:1475px;top:504px;width:15px;height:9px;background:#1a7b00"></div>
<div class="l" style="left:1475px;top:515px;width:5px;height:9px;background:#1a7b00"></div>
<div class="l" style="left:1482px;top:515px;width:8px;height:6px;background:#044e00"></div>
<div class="l" style="left:1482px;top:522px;width:2px;height:2px;background:#1a7b00"></div>
<div class="l" style="left:1485px;top:522px;width:3px;height:2px;background:#044e00"></div>
<div class="l" style="left:1489px;top:522px;width:1px;height:2px;background:#b0000b"></div>
<div class="l" style="left:1313px;top:547px;width:123px;height:136px;background:#22aa00;font-size:19px;line-height:1.12;-webkit-text-stroke:0.35px #fff"><div class="t" style="transform:translate(-9px,3px)"><span class="n" style="font-size:0.94em">شستا</span><span>2.79%</span></div></div>
<div class="l" style="left:1437px;top:547px;width:53px;height:60px;background:#22aa00;font-size:13px;line-height:1.12;-webkit-text-stroke:0.3px #fff"><div class="t" style="transform:translate(-1px,1px)"><span class="n">وبانك</span></div></div>
<div class="l" style="left:1437px;top:608px;width:53px;height:35px;background:#1a7b00;font-size:13px;line-height:1.12;-webkit-text-stroke:0.3px #fff"><div class="t" style="transform:translate(-1px,1px)"><span class="n">وغدير</span></div></div>
<div class="l" style="left:1437px;top:644px;width:39px;height:39px;background:#22aa00;font-size:13px;line-height:1.12;-webkit-text-stroke:0.3px #fff"><div class="t" style="transform:translate(-1px,1px)"><span class="n">واميد</span></div></div>
<div class="l" style="left:1477px;top:644px;width:13px;height:26px;background:#044e00"></div>
<div class="l" style="left:1477px;top:671px;width:13px;height:12px;background:#22aa00"></div>
<div class="l" style="left:1536px;top:31px;width:75px;height:102px;background:#22aa00;font-size:9px;line-height:1.12;-webkit-text-stroke:0.3px #fff"><div class="t" style="transform:translate(-9px,3px)"><span class="n">آريان</span><span>2.97%</span></div></div>
<div class="l" style="left:1613px;top:31px;width:80px;height:63px;background:#22aa00;font-size:5.5px;line-height:1.12;-webkit-text-stroke:0.3px #fff"><div class="t" style="transform:translate(-9px,3px)"><span class="n">وطوبى</span><span>2.99%</span></div></div>
<div class="l" style="left:1694px;top:31px;width:32px;height:63px;background:#22aa00;font-size:13px;line-height:1.12;-webkit-text-stroke:0.3px #fff"><div class="t" style="transform:translate(-1px,1px)"><span class="n"><span class="d">...</span>وتو</span></div></div>
<div class="l" style="left:1536px;top:134px;width:75px;height:68px;background:#044e00;font-size:5.5px;line-height:1.12;-webkit-text-stroke:0.3px #fff"><div class="t" style="transform:translate(-9px,3px)"><span class="n">وكستر</span><span>0.33%</span></div></div>
<div class="l" style="left:1613px;top:96px;width:41px;height:43px;background:#1a7b00;font-size:13px;line-height:1.12;-webkit-text-stroke:0.3px #fff"><div class="t" style="transform:translate(-1px,1px)"><span class="n">وپايا</span></div></div>
<div class="l" style="left:1613px;top:141px;width:41px;height:30px;background:#044e00;font-size:13px;line-height:1.12;-webkit-text-stroke:0.3px #fff"><div class="t" style="transform:translate(-1px,1px)"><span class="n">كيانا</span></div></div>
<div class="l" style="left:1613px;top:173px;width:41px;height:29px;background:#044e00;font-size:12px;line-height:1.12;-webkit-text-stroke:0.3px #fff"><div class="t" style="transform:translate(-1px,1px)"><span class="n"><span class="d">...</span>والما</span></div></div>
<div class="l" style="left:1656px;top:96px;width:38px;height:24px;background:#22aa00;font-size:13px;line-height:1.12;-webkit-text-stroke:0.3px #fff"><div class="t" style="transform:translate(-1px,1px)"><span class="n">سليم</span></div></div>
<div class="l" style="left:1695px;top:96px;width:31px;height:24px;background:#044e00;font-size:12px;line-height:1.12;-webkit-text-stroke:0.3px #fff"><div class="t" style="transform:translate(-1px,1px)"><span class="n"><span class="d">...</span>و</span></div></div>
<div class="l" style="left:1656px;top:122px;width:27px;height:24px;background:#22aa00"></div>
<div class="l" style="left:1684px;top:122px;width:22px;height:24px;background:#22aa00;font-size:12px;line-height:1.12;-webkit-text-stroke:0.3px #fff"><div class="t" style="transform:translate(-1px,1px)"><span class="n"><span class="d">...</span>و</span></div></div>
<div class="l" style="left:1707px;top:122px;width:19px;height:24px;background:#1a7b00"></div>
<div class="l" style="left:1656px;top:147px;width:21px;height:19px;background:#22aa00"></div>
<div class="l" style="left:1678px;top:147px;width:18px;height:21px;background:#1a7b00"></div>
<div class="l" style="left:1697px;top:147px;width:15px;height:21px;background:#1a7b00"></div>
<div class="l" style="left:1713px;top:147px;width:13px;height:21px;background:#1a7b00"></div>
<div class="l" style="left:1656px;top:167px;width:21px;height:17px;background:#1a7b00"></div>
<div class="l" style="left:1656px;top:186px;width:21px;height:16px;background:#22aa00"></div>
<div class="l" style="left:1678px;top:169px;width:14px;height:18px;background:#22aa00"></div>
<div class="l" style="left:1678px;top:188px;width:14px;height:14px;background:#22aa00"></div>
<div class="l" style="left:1693px;top:169px;width:11px;height:14px;background:#22aa00"></div>
<div class="l" style="left:1705px;top:169px;width:10px;height:14px;background:#22aa00"></div>
<div class="l" style="left:1716px;top:169px;width:10px;height:14px;background:#1a7b00"></div>
<div class="l" style="left:1693px;top:185px;width:11px;height:11px;background:#22aa00"></div>
<div class="l" style="left:1693px;top:197px;width:11px;height:5px;background:#1a7b00"></div>
<div class="l" style="left:1705px;top:185px;width:7px;height:9px;background:#22aa00"></div>
<div class="l" style="left:1705px;top:195px;width:7px;height:7px;background:#044e00"></div>
<div class="l" style="left:1713px;top:185px;width:7px;height:4px;background:#22aa00"></div>
<div class="l" style="left:1721px;top:185px;width:5px;height:4px;background:#044e00"></div>
<div class="l" style="left:1713px;top:190px;width:4px;height:6px;background:#044e00"></div>
<div class="l" style="left:1718px;top:190px;width:5px;height:6px;background:#22aa00"></div>
<div class="l" style="left:1724px;top:190px;width:2px;height:6px;background:#1a7b00"></div>
<div class="l" style="left:1713px;top:197px;width:4px;height:5px;background:#044e00"></div>
<div class="l" style="left:1718px;top:196px;width:5px;height:3px;background:#044e00"></div>
<div class="l" style="left:1724px;top:196px;width:2px;height:3px;background:#1a7b00"></div>
<div class="l" style="left:1718px;top:200px;width:5px;height:2px;background:#22aa00"></div>
<div class="l" style="left:1724px;top:200px;width:2px;height:2px;background:#1a7b00"></div>
<div class="l" style="left:1729px;top:31px;width:78px;height:97px;background:#22aa00;font-size:8.5px;line-height:1.12;-webkit-text-stroke:0.3px #fff"><div class="t" style="transform:translate(-9px,3px)"><span class="n">فرابورس</span><span>2.89%</span></div></div>
<div class="l" style="left:1808px;top:31px;width:76px;height:97px;background:#22aa00;font-size:8.5px;line-height:1.12;-webkit-text-stroke:0.3px #fff"><div class="t" style="transform:translate(-9px,3px)"><span class="n">كالا</span><span>2.93%</span></div></div>
<div class="l" style="left:1729px;top:129px;width:57px;height:73px;background:#22aa00;font-size:4.5px;line-height:1.12;-webkit-text-stroke:0.3px #fff"><div class="t" style="transform:translate(-9px,3px)"><span class="n">اعتماد</span><span>2.88%</span></div></div>
<div class="l" style="left:1787px;top:129px;width:42px;height:73px;background:#1a7b00;font-size:13px;line-height:1.12;-webkit-text-stroke:0.3px #fff"><div class="t" style="transform:translate(-1px,1px)"><span class="n">بورس</span></div></div>
<div class="l" style="left:1830px;top:129px;width:54px;height:34px;background:#22aa00;font-size:13px;line-height:1.12;-webkit-text-stroke:0.3px #fff"><div class="t" style="transform:translate(-1px,1px)"><span class="n">تكيميا</span></div></div>
<div class="l" style="left:1830px;top:164px;width:29px;height:38px;background:#22aa00;font-size:13px;line-height:1.12;-webkit-text-stroke:0.3px #fff"><div class="t" style="transform:translate(-1px,1px)"><span class="n">اميد</span></div></div>
<div class="l" style="left:1861px;top:164px;width:23px;height:11px;background:#22aa00"></div>
<div class="l" style="left:1861px;top:176px;width:12px;height:16px;background:#22aa00"></div>
<div class="l" style="left:1874px;top:176px;width:10px;height:16px;background:#044e00"></div>
<div class="l" style="left:1861px;top:193px;width:18px;height:9px;background:#420000"></div>
<div class="l" style="left:1880px;top:193px;width:4px;height:6px;background:#420000"></div>
<div class="l" style="left:1880px;top:200px;width:4px;height:2px;background:#22aa00"></div>
<div class="l" style="left:1494px;top:226px;width:140px;height:119px;background:#22aa00;font-size:19px;line-height:1.12;-webkit-text-stroke:0.35px #fff"><div class="t" style="transform:translate(-9px,3px)"><span class="n" style="font-size:0.94em">اخابر</span><span>2.91%</span></div></div>
<div class="l" style="left:1638px;top:226px;width:126px;height:119px;background:#22aa00;font-size:17px;line-height:1.12;-webkit-text-stroke:0.35px #fff"><div class="t" style="transform:translate(-9px,3px)"><span class="n" style="font-size:0.94em">حفاري</span><span>2.87%</span></div></div>
<div class="l" style="left:1767px;top:226px;width:65px;height:75px;background:#7b0000;font-size:5.5px;line-height:1.12;-webkit-text-stroke:0.3px #fff"><div class="t" style="transform:translate(-9px,3px)"><span class="n">كهشم</span><span>-1.59%</span></div></div>
<div class="l" style="left:1833px;top:226px;width:51px;height:75px;background:#22aa00;font-size:5px;line-height:1.12;-webkit-text-stroke:0.3px #fff"><div class="t" style="transform:translate(-9px,3px)"><span class="n">كساوه</span><span>2.09%</span></div></div>
<div class="l" style="left:1767px;top:302px;width:42px;height:43px;background:#22aa00;font-size:13px;line-height:1.12;-webkit-text-stroke:0.3px #fff"><div class="t" style="transform:translate(-1px,1px)"><span class="n">كهمدا</span></div></div>
<div class="l" style="left:1810px;top:302px;width:42px;height:43px;background:#1a7b00;font-size:13px;line-height:1.12;-webkit-text-stroke:0.3px #fff"><div class="t" style="transform:translate(-1px,1px)"><span class="n">كتوكا</span></div></div>
<div class="l" style="left:1853px;top:303px;width:16px;height:22px;background:#420000"></div>
<div class="l" style="left:1871px;top:303px;width:13px;height:22px;background:#1a7b00"></div>
<div class="l" style="left:1853px;top:326px;width:16px;height:10px;background:#22aa00"></div>
<div class="l" style="left:1853px;top:338px;width:16px;height:7px;background:#22aa00"></div>
<div class="l" style="left:1870px;top:326px;width:7px;height:12px;background:#22aa00"></div>
<div class="l" style="left:1878px;top:326px;width:6px;height:12px;background:#22aa00"></div>
<div class="l" style="left:1870px;top:339px;width:8px;height:6px;background:#22aa00"></div>
<div class="l" style="left:1880px;top:339px;width:4px;height:6px;background:#22aa00"></div>
<div class="l" style="left:1494px;top:368px;width:75px;height:108px;background:#22aa00;font-size:10px;line-height:1.12;-webkit-text-stroke:0.3px #fff"><div class="t" style="transform:translate(-9px,3px)"><span class="n">كيسون</span><span>2.97%</span></div></div>
<div class="l" style="left:1571px;top:368px;width:45px;height:89px;background:#b0000b;font-size:5px;line-height:1.12;-webkit-text-stroke:0.3px #fff"><div class="t" style="transform:translate(-9px,3px)"><span class="n">رانفور</span><span>-2.68%</span></div></div>
<div class="l" style="left:1571px;top:459px;width:45px;height:17px;background:#22aa00"></div>
<div class="l" style="left:1619px;top:368px;width:58px;height:57px;background:#22aa00;font-size:13px;line-height:1.12;-webkit-text-stroke:0.3px #fff"><div class="t" style="transform:translate(-1px,1px)"><span class="n">پتاير</span></div></div>
<div class="l" style="left:1678px;top:368px;width:35px;height:56px;background:#22aa00;font-size:13px;line-height:1.12;-webkit-text-stroke:0.3px #fff"><div class="t" style="transform:translate(-1px,1px)"><span class="n"><span class="d">...</span>پكر</span></div></div>
<div class="l" style="left:1619px;top:426px;width:38px;height:38px;background:#22aa00;font-size:13px;line-height:1.12;-webkit-text-stroke:0.3px #fff"><div class="t" style="transform:translate(-1px,1px)"><span class="n">پيزد</span></div></div>
<div class="l" style="left:1658px;top:426px;width:27px;height:38px;background:#b0000b;font-size:12px;line-height:1.12;-webkit-text-stroke:0.3px #fff"><div class="t" style="transform:translate(-1px,1px)"><span class="n"><span class="d">...</span>پا</span></div></div>
<div class="l" style="left:1686px;top:426px;width:27px;height:16px;background:#22aa00"></div>
<div class="l" style="left:1686px;top:443px;width:21px;height:21px;background:#22aa00"></div>
<div class="l" style="left:1708px;top:443px;width:5px;height:15px;background:#22aa00"></div>
<div class="l" style="left:1708px;top:459px;width:5px;height:5px;background:#22aa00"></div>
<div class="l" style="left:1716px;top:368px;width:91px;height:84px;background:#22aa00;font-size:9px;line-height:1.12;-webkit-text-stroke:0.3px #fff"><div class="t" style="transform:translate(-9px,3px)"><span class="n">ماديرا</span><span>2.97%</span></div></div>
<div class="l" style="left:1716px;top:453px;width:91px;height:11px;background:#22aa00"></div>
<div class="l" style="left:1810px;top:368px;width:74px;height:46px;background:#22aa00;font-size:5px;line-height:1.12;-webkit-text-stroke:0.3px #fff"><div class="t" style="transform:translate(-9px,3px)"><span class="n">كوثر</span><span>2.97%</span></div></div>
<div class="l" style="left:1810px;top:415px;width:32px;height:30px;background:#1a7b00;font-size:12px;line-height:1.12;-webkit-text-stroke:0.3px #fff"><div class="t" style="transform:translate(-1px,1px)"><span class="n"><span class="d">...</span>و</span></div></div>
<div class="l" style="left:1843px;top:415px;width:26px;height:22px;background:#044e00;font-size:12px;line-height:1.12;-webkit-text-stroke:0.3px #fff"><div class="t" style="transform:translate(-1px,1px)"><span class="n"><span class="d">...</span>پا</span></div></div>
<div class="l" style="left:1870px;top:415px;width:14px;height:22px;background:#22aa00"></div>
<div class="l" style="left:1810px;top:446px;width:32px;height:18px;background:#22aa00"></div>
<div class="l" style="left:1843px;top:439px;width:18px;height:13px;background:#044e00"></div>
<div class="l" style="left:1843px;top:453px;width:18px;height:11px;background:#22aa00"></div>
<div class="l" style="left:1863px;top:439px;width:14px;height:12px;background:#7b0000"></div>
<div class="l" style="left:1878px;top:439px;width:6px;height:12px;background:#22aa00"></div>
<div class="l" style="left:1863px;top:453px;width:6px;height:11px;background:#b0000b"></div>
<div class="l" style="left:1870px;top:453px;width:7px;height:5px;background:#1a7b00"></div>
<div class="l" style="left:1878px;top:453px;width:6px;height:4px;background:#1a7b00"></div>
<div class="l" style="left:1870px;top:460px;width:7px;height:4px;background:#1a7b00"></div>
<div class="l" style="left:1878px;top:458px;width:3px;height:4px;background:#420000"></div>
<div class="l" style="left:1882px;top:458px;width:2px;height:4px;background:#22aa00"></div>
<div class="l" style="left:1878px;top:463px;width:3px;height:1px;background:#22aa00"></div>
<div class="l" style="left:1882px;top:463px;width:1px;height:1px;background:#044e00"></div>
<div class="l" style="left:1883px;top:463px;width:1px;height:1px;background:#b0000b"></div>
<div class="l" style="left:1494px;top:499px;width:61px;height:80px;background:#1a7b00;font-size:6.5px;line-height:1.12;-webkit-text-stroke:0.3px #fff"><div class="t" style="transform:translate(-9px,3px)"><span class="n">لسرما</span><span>1.91%</span></div></div>
<div class="l" style="left:1557px;top:499px;width:38px;height:40px;background:#b0000b;font-size:11.5px;line-height:1.12;-webkit-text-stroke:0.3px #fff"><div class="t" style="transform:translate(-1px,1px)"><span class="n"><span class="d">...</span>الكتر</span></div></div>
<div class="l" style="left:1596px;top:499px;width:20px;height:40px;background:#420000;font-size:12px;line-height:1.12;-webkit-text-stroke:0.3px #fff"><div class="t" style="transform:translate(-1px,1px)"><span class="n"><span class="d">...</span>ا</span></div></div>
<div class="l" style="left:1557px;top:541px;width:25px;height:21px;background:#22aa00"></div>
<div class="l" style="left:1584px;top:541px;width:16px;height:21px;background:#22aa00"></div>
<div class="l" style="left:1601px;top:541px;width:15px;height:21px;background:#044e00"></div>
<div class="l" style="left:1557px;top:563px;width:25px;height:16px;background:#22aa00"></div>
<div class="l" style="left:1584px;top:563px;width:16px;height:16px;background:#22aa00"></div>
<div class="l" style="left:1601px;top:563px;width:15px;height:9px;background:#22aa00"></div>
<div class="l" style="left:1601px;top:573px;width:6px;height:6px;background:#1a7b00"></div>
<div class="l" style="left:1608px;top:573px;width:5px;height:6px;background:#420000"></div>
<div class="l" style="left:1614px;top:573px;width:2px;height:6px;background:#22aa00"></div>
<div class="l" style="left:1494px;top:603px;width:85px;height:80px;background:#22aa00;font-size:8.5px;line-height:1.12;-webkit-text-stroke:0.3px #fff"><div class="t" style="transform:translate(-9px,3px)"><span class="n">فاذر</span><span>2.85%</span></div></div>
<div class="l" style="left:1580px;top:603px;width:36px;height:64px;background:#22aa00;font-size:13px;line-height:1.12;-webkit-text-stroke:0.3px #fff"><div class="t" style="transform:translate(-1px,1px)"><span class="n">فاراك</span></div></div>
<div class="l" style="left:1580px;top:669px;width:29px;height:14px;background:#1a7b00"></div>
<div class="l" style="left:1610px;top:669px;width:6px;height:5px;background:#1a7b00"></div>
<div class="l" style="left:1610px;top:676px;width:6px;height:7px;background:#22aa00"></div>
<div class="l" style="left:1619px;top:488px;width:41px;height:35px;background:#1a7b00;font-size:13px;line-height:1.12;-webkit-text-stroke:0.3px #fff"><div class="t" style="transform:translate(-1px,1px)"><span class="n"><span class="d">...</span>فن ا</span></div></div>
<div class="l" style="left:1662px;top:488px;width:28px;height:35px;background:#22aa00;font-size:13px;line-height:1.12;-webkit-text-stroke:0.3px #fff"><div class="t" style="transform:translate(-1px,1px)"><span class="n"><span class="d">...</span>ت</span></div></div>
<div class="l" style="left:1619px;top:525px;width:32px;height:30px;background:#22aa00;font-size:13px;line-height:1.12;-webkit-text-stroke:0.3px #fff"><div class="t" style="transform:translate(-1px,1px)"><span class="n"><span class="d">...</span>برد</span></div></div>
<div class="l" style="left:1619px;top:557px;width:32px;height:20px;background:#22aa00"></div>
<div class="l" style="left:1652px;top:525px;width:21px;height:23px;background:#22aa00"></div>
<div class="l" style="left:1675px;top:525px;width:15px;height:23px;background:#22aa00"></div>
<div class="l" style="left:1652px;top:550px;width:16px;height:14px;background:#044e00"></div>
<div class="l" style="left:1669px;top:550px;width:11px;height:13px;background:#b0000b"></div>
<div class="l" style="left:1681px;top:550px;width:9px;height:14px;background:#22aa00"></div>
<div class="l" style="left:1652px;top:566px;width:16px;height:11px;background:#22aa00"></div>
<div class="l" style="left:1669px;top:565px;width:6px;height:12px;background:#22aa00"></div>
<div class="l" style="left:1676px;top:566px;width:7px;height:5px;background:#22aa00"></div>
<div class="l" style="left:1684px;top:566px;width:6px;height:4px;background:#1a7b00"></div>
<div class="l" style="left:1676px;top:572px;width:7px;height:5px;background:#044e00"></div>
<div class="l" style="left:1684px;top:571px;width:6px;height:3px;background:#22aa00"></div>
<div class="l" style="left:1684px;top:575px;width:4px;height:2px;background:#b0000b"></div>
<div class="l" style="left:1619px;top:600px;width:71px;height:83px;background:#22aa00;font-size:6.5px;line-height:1.12;-webkit-text-stroke:0.3px #fff"><div class="t" style="transform:translate(-9px,3px)"><span class="n">مهرمام</span><span>2.5%</span></div></div>
<div class="l" style="left:1693px;top:488px;width:46px;height:44px;background:#420000;font-size:13px;line-height:1.12;-webkit-text-stroke:0.3px #fff"><div class="t" style="transform:translate(-1px,1px)"><span class="n">بجهرم</span></div></div>
<div class="l" style="left:1741px;top:488px;width:21px;height:44px;background:#22aa00"></div>
<div class="l" style="left:1764px;top:488px;width:15px;height:24px;background:#22aa00"></div>
<div class="l" style="left:1780px;top:488px;width:15px;height:24px;background:#044e00"></div>
<div class="l" style="left:1764px;top:514px;width:13px;height:18px;background:#22aa00"></div>
<div class="l" style="left:1778px;top:514px;width:17px;height:9px;background:#1a7b00"></div>
<div class="l" style="left:1778px;top:524px;width:12px;height:8px;background:#22aa00"></div>
<div class="l" style="left:1791px;top:524px;width:4px;height:4px;background:#22aa00"></div>
<div class="l" style="left:1791px;top:529px;width:4px;height:3px;background:#420000"></div>
<div class="l" style="left:1798px;top:488px;width:54px;height:44px;background:#22aa00;font-size:13px;line-height:1.12;-webkit-text-stroke:0.3px #fff"><div class="t" style="transform:translate(-1px,1px)"><span class="n">بكام</span></div></div>
<div class="l" style="left:1853px;top:488px;width:31px;height:19px;background:#22aa00"></div>
<div class="l" style="left:1853px;top:508px;width:15px;height:24px;background:#22aa00"></div>
<div class="l" style="left:1869px;top:508px;width:15px;height:11px;background:#22aa00"></div>
<div class="l" style="left:1869px;top:520px;width:10px;height:7px;background:#044e00"></div>
<div class="l" style="left:1880px;top:520px;width:4px;height:7px;background:#22aa00"></div>
<div class="l" style="left:1869px;top:528px;width:10px;height:4px;background:#1a7b00"></div>
<div class="l" style="left:1880px;top:528px;width:4px;height:4px;background:#22aa00"></div>
<div class="l" style="left:1693px;top:556px;width:35px;height:35px;background:#22aa00;font-size:13px;line-height:1.12;-webkit-text-stroke:0.3px #fff"><div class="t" style="transform:translate(-1px,1px)"><span class="n">قثابت</span></div></div>
<div class="l" style="left:1693px;top:593px;width:35px;height:21px;background:#22aa00;font-size:13px;line-height:1.12;-webkit-text-stroke:0.3px #fff"><div class="t" style="transform:translate(-1px,1px)"><span class="n">قشكر</span></div></div>
<div class="l" style="left:1730px;top:556px;width:28px;height:18px;background:#22aa00"></div>
<div class="l" style="left:1730px;top:576px;width:13px;height:18px;background:#22aa00"></div>
<div class="l" style="left:1744px;top:576px;width:14px;height:18px;background:#044e00"></div>
<div class="l" style="left:1730px;top:596px;width:11px;height:18px;background:#22aa00"></div>
<div class="l" style="left:1742px;top:596px;width:16px;height:7px;background:#044e00"></div>
<div class="l" style="left:1742px;top:604px;width:9px;height:10px;background:#420000"></div>
<div class="l" style="left:1752px;top:604px;width:6px;height:3px;background:#22aa00"></div>
<div class="l" style="left:1752px;top:608px;width:6px;height:6px;background:#420000"></div>
<div class="l" style="left:1761px;top:556px;width:37px;height:26px;background:#22aa00;font-size:13px;line-height:1.12;-webkit-text-stroke:0.3px #fff"><div class="t" style="transform:translate(-1px,1px)"><span class="n">قاسم</span></div></div>
<div class="l" style="left:1799px;top:556px;width:29px;height:26px;background:#1a7b00;font-size:13px;line-height:1.12;-webkit-text-stroke:0.3px #fff"><div class="t" style="transform:translate(-1px,1px)"><span class="n">افق</span></div></div>
<div class="l" style="left:1830px;top:556px;width:26px;height:26px;background:#22aa00;font-size:12px;line-height:1.12;-webkit-text-stroke:0.3px #fff"><div class="t" style="transform:translate(-1px,1px)"><span class="n"><span class="d">...</span>و</span></div></div>
<div class="l" style="left:1857px;top:556px;width:13px;height:26px;background:#22aa00"></div>
<div class="l" style="left:1872px;top:556px;width:12px;height:6px;background:#22aa00"></div>
<div class="l" style="left:1872px;top:564px;width:12px;height:6px;background:#22aa00"></div>
<div class="l" style="left:1872px;top:572px;width:5px;height:10px;background:#22aa00"></div>
<div class="l" style="left:1878px;top:572px;width:6px;height:6px;background:#22aa00"></div>
<div class="l" style="left:1878px;top:579px;width:6px;height:3px;background:#1a7b00"></div>
<div class="l" style="left:1693px;top:638px;width:25px;height:45px;background:#22aa00"></div>
<div class="l" style="left:1720px;top:638px;width:38px;height:19px;background:#22aa00"></div>
<div class="l" style="left:1720px;top:659px;width:27px;height:24px;background:#22aa00;font-size:13px;line-height:1.12;-webkit-text-stroke:0.3px #fff"><div class="t" style="transform:translate(-1px,1px)"><span class="n">آباد</span></div></div>
<div class="l" style="left:1748px;top:659px;width:10px;height:24px;background:#22aa00"></div>
<div class="l" style="left:1761px;top:606px;width:35px;height:32px;background:#1a7b00;font-size:13px;line-height:1.12;-webkit-text-stroke:0.3px #fff"><div class="t" style="transform:translate(-1px,1px)"><span class="n">آواك</span></div></div>
<div class="l" style="left:1797px;top:606px;width:6px;height:15px;background:#22aa00"></div>
<div class="l" style="left:1797px;top:623px;width:6px;height:15px;background:#1a7b00"></div>
<div class="l" style="left:1761px;top:661px;width:19px;height:22px;background:#22aa00"></div>
<div class="l" style="left:1781px;top:661px;width:15px;height:22px;background:#1a7b00"></div>
<div class="l" style="left:1797px;top:661px;width:6px;height:22px;background:#22aa00"></div>
<div class="l" style="left:1806px;top:606px;width:15px;height:16px;background:#420000"></div>
<div class="l" style="left:1823px;top:606px;width:12px;height:16px;background:#22aa00"></div>
<div class="l" style="left:1836px;top:606px;width:8px;height:9px;background:#22aa00"></div>
<div class="l" style="left:1836px;top:617px;width:8px;height:5px;background:#044e00"></div>
<div class="l" style="left:1806px;top:646px;width:15px;height:10px;background:#044e00"></div>
<div class="l" style="left:1823px;top:646px;width:12px;height:10px;background:#22aa00"></div>
<div class="l" style="left:1836px;top:646px;width:8px;height:10px;background:#420000"></div>
<div class="l" style="left:1806px;top:680px;width:38px;height:3px;background:#22aa00"></div>
<div class="l" style="left:1847px;top:606px;width:29px;height:16px;background:#1a7b00"></div>
<div class="l" style="left:1877px;top:606px;width:7px;height:8px;background:#044e00"></div>
<div class="l" style="left:1877px;top:615px;width:5px;height:7px;background:#22aa00"></div>
<div class="l" style="left:1883px;top:615px;width:1px;height:7px;background:#22aa00"></div>
<div class="l" style="left:1847px;top:645px;width:37px;height:2px;background:#22aa00"></div>
<div class="l" style="left:1847px;top:669px;width:17px;height:14px;background:#22aa00"></div>
<div class="l" style="left:1867px;top:668px;width:17px;height:2px;background:#22aa00"></div>
</body></html>
